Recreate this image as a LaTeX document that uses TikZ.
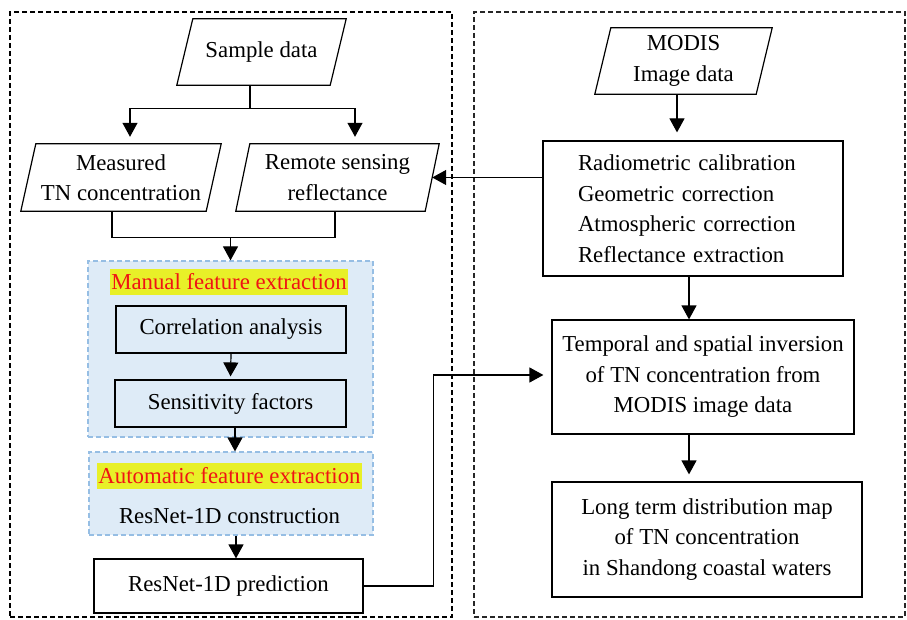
\documentclass[tikz,border=0pt]{standalone}
\usepackage{fontspec}
\setmainfont{Liberation Serif}
\usetikzlibrary{arrows.meta,calc}
\definecolor{bluefill}{RGB}{222,235,247}
\definecolor{blueline}{RGB}{150,190,228}
\definecolor{hlyellow}{RGB}{232,240,40}
\definecolor{hlred}{RGB}{240,20,20}
\newcommand\paradraw[2]{\draw[line width=1.2pt] ([xshift=-#2]#1.south west) -- ([xshift=-#2]#1.south east) -- ([xshift=#2]#1.north east) -- ([xshift=#2]#1.north west) -- cycle;}
\begin{document}
\begin{tikzpicture}[x=1pt,y=-1pt,
  every node/.style={font=\fontsize{22.8}{30.5}\selectfont, inner sep=0pt},
  box/.style={draw, line width=1.2pt, align=center},
  para/.style={align=center},
  group/.style={draw=blueline, fill=bluefill, dash pattern=on 5pt off 3pt, line width=1.2pt},
  hlabel/.style={fill=hlyellow, text=hlred, inner xsep=1pt, minimum height=26pt},
  conn/.style={line width=1.2pt},
  arr/.style={conn, -{Triangle[length=14pt,width=15pt]}},
  outerbox/.style={draw, dash pattern=on 5pt off 3pt, line width=1.5pt},
  outerboxr/.style={draw=black!85, dash pattern=on 5pt off 3pt, line width=1.2pt}]
\useasboundingbox (0,0) rectangle (907,620);

% panels
\node[outerbox, minimum width=442pt, minimum height=605pt] (leftpanel) at (231,314.5) {};
\node[outerboxr, minimum width=431pt, minimum height=605pt] (rightpanel) at (689.5,314.5) {};

% group boxes
\node[group, minimum width=285pt, minimum height=176pt] (manual) at (230.5,349) {};
\node[group, minimum width=284pt, minimum height=83pt] (auto) at (231,493.5) {};

% parallelograms
\node[para, minimum width=153pt, minimum height=66pt] (sd) at (261.5,52) {Sample data};
\paradraw{sd}{8pt}
\node[para, minimum width=185pt, minimum height=67pt] (meas) at (121,177.5) {Measured\\TN concentration};
\paradraw{meas}{7.5pt}
\node[para, minimum width=189pt, minimum height=67pt] (rem) at (337.5,177.5) {Remote sensing\\reflectance};
\paradraw{rem}{7pt}
\node[para, minimum width=161pt, minimum height=66pt] (modis) at (683.5,61) {MODIS\\Image data};
\paradraw{modis}{8pt}

% left column
\node[hlabel] (manuallbl) at (229,282) {Manual feature extraction};
\node[box, minimum width=230pt, minimum height=47pt] (corr) at (231,329.5) {Correlation analysis};
\node[box, minimum width=231pt, minimum height=47pt] (sens) at (230.5,403.5) {Sensitivity factors};
\node[hlabel] (autolbl) at (229.5,476) {Automatic feature extraction};
\node (resc) at (229.5,516) {ResNet-1D construction};
\node[box, minimum width=269pt, minimum height=54pt] (pred) at (228.5,586) {ResNet-1D prediction};

% right column
\node[box, align=left, text width=230pt, inner xsep=35pt, minimum height=135pt] (radio) at (693,208.5)
  {Radiometric calibration\\Geometric correction\\Atmospheric correction\\Reflectance extraction};
\node[box, minimum width=302pt, minimum height=114pt] (temp) at (703,377)
  {Temporal and spatial inversion\\of TN concentration from\\MODIS image data};
\node[box, minimum width=310pt, minimum height=115pt] (long) at (707,539.5)
  {Long term distribution map\\of TN concentration\\in Shandong coastal waters};

% connectors
\draw[conn] ([xshift=-11.5pt]sd.south) -- ++(0,23) coordinate (br);
\draw[arr] (br) -| ([xshift=9pt,yshift=7pt]meas.north);
\draw[arr] (br) -| ([xshift=17.5pt,yshift=7pt]rem.north);
\draw[conn] ([xshift=-9pt]meas.south) -- ([xshift=-9pt,yshift=-26pt]meas.south) coordinate (mg)
  -| ([xshift=-2.5pt]rem.south);
\draw[arr] (manual.north |- mg) -- (manual.north);
\draw[arr, shorten >=3pt] (corr.south) -- (sens.north);
\draw[arr] ([xshift=4.5pt]sens.south) -- ([xshift=4.5pt]sens.south |- auto.north);
\draw[arr] ([xshift=5pt]auto.south) -- ([xshift=5pt]auto.south |- pred.north);
\draw[arr] (radio.west |- rem.east) -- (rem.east);
\draw[arr, shorten >=8pt] ([xshift=-6.5pt]modis.south) -- ([xshift=-6.5pt]modis.south |- radio.north);
\draw[arr] ([xshift=-4pt]radio.south) -- ([xshift=-4pt]radio.south |- temp.north);
\draw[arr, shorten >=7pt] ([xshift=-14pt]temp.south) -- ([xshift=-14pt]temp.south |- long.north);
\draw[arr, shorten >=8pt] (pred.east) -- ++(70,0) |- ([yshift=2pt]temp.west);
\end{tikzpicture}
\end{document}
